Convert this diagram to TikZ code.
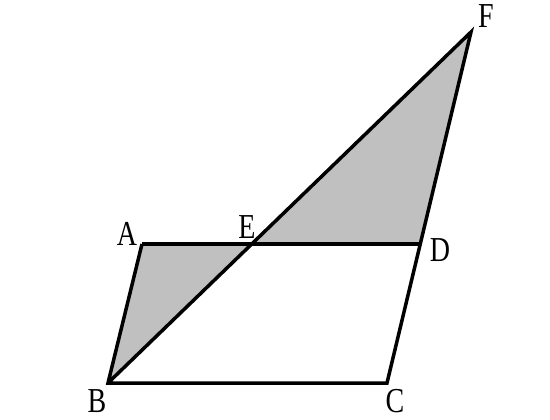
\documentclass[tikz,border=0pt]{standalone}
\usepackage{fontspec}
\setmainfont{Liberation Serif}
\definecolor{areagray}{RGB}{192,192,192}
\tikzset{
	ptlabel/.style={inner sep=0pt,font=\fontsize{35}{35}\selectfont,xscale=0.8},
	areafill/.style={fill=areagray},
	edgeline/.style={draw=black,line width=3.5pt},
}
\begin{document}
\begin{tikzpicture}[x=1pt,y=-1pt]
		\useasboundingbox (0,0) rectangle (550,420);
		% points of the figure
		\coordinate (A) at (142,244);
		\coordinate (D) at (420.5,244);
		\coordinate (B) at (108,383);
		\coordinate (C) at (387,383);
		\coordinate (F) at (471,32);
		\coordinate (E) at (252.5,244);
		% shaded triangles
		\fill[areafill] (A) -- (B) -- (E) -- cycle;
		\fill[areafill] (E) -- (F) -- (D) -- cycle;
		% sides
		\draw[edgeline] (A) -- (D);
		\draw[edgeline] (A) -- (B) -- (C) -- (F) -- (B);
		% labels
		\node[ptlabel] (la) at (127,234) {A};
		\node[ptlabel] (le) at (247,227) {E};
		\node[ptlabel] (ld) at (440,250) {D};
		\node[ptlabel] (lb) at (97,401) {B};
		\node[ptlabel] (lc) at (395,401) {C};
		\node[ptlabel] (lf) at (486,16) {F};
	\end{tikzpicture}
\end{document}
